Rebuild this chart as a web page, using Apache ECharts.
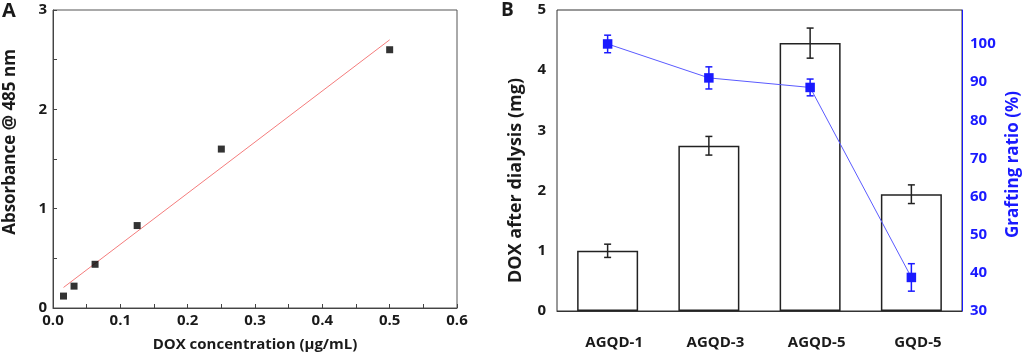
<!DOCTYPE html>
<html>
<head>
<meta charset="utf-8">
<title>DOX calibration and grafting</title>
<script src="https://cdn.jsdelivr.net/npm/echarts@6/dist/echarts.min.js"></script>
<style>
    html, body { margin: 0; padding: 0; background: #fff; }
    #chart { width: 1024px; height: 357px; }
</style>
</head>
<body>
<div id="chart"></div>
<script>
// panel A: calibration curve
var concentration = [0.015625, 0.03125, 0.0625, 0.125, 0.25, 0.5];
var absorbance = [0.12, 0.22, 0.44, 0.83, 1.60, 2.60];
// fitted line, two end points
var fitX = [0.015625, 0.5];
var fitY = [0.207, 2.70];

// panel B: DOX after dialysis (bars) and grafting ratio (line)
var samples = ['AGQD-1', 'AGQD-3', 'AGQD-5', 'GQD-5'];
var doxMg = [1.00, 2.745, 4.45, 1.94];
var doxErr = [0.11, 0.155, 0.25, 0.155];
var grafting = [100, 91.1, 88.6, 38.8];
var graftErr = [2.3, 2.9, 2.2, 3.6];

var FONT = 'Open Sans';
var INK = '#1a1a1a';
var BLUE = '#1a1aff';

function zip(a, b) {
    var out = [];
    for (var i = 0; i < a.length; i++) out.push([a[i], b[i]]);
    return out;
}

function errItems(vals, errs) {
    var out = [];
    for (var i = 0; i < vals.length; i++) out.push([i, vals[i], errs[i]]);
    return out;
}

// draws a vertical error bar with caps
function errorBar(color, cap) {
    return function (params, api) {
        var x = api.value(0), v = api.value(1), e = api.value(2);
        var hi = api.coord([x, v + e]);
        var lo = api.coord([x, v - e]);
        var style = { stroke: color, lineWidth: 1.5 };
        return {
            type: 'group',
            children: [
                { type: 'line', shape: { x1: hi[0], y1: hi[1], x2: lo[0], y2: lo[1] }, style: style },
                { type: 'line', shape: { x1: hi[0] - cap, y1: hi[1], x2: hi[0] + cap, y2: hi[1] }, style: style },
                { type: 'line', shape: { x1: lo[0] - cap, y1: lo[1], x2: lo[0] + cap, y2: lo[1] }, style: style }
            ]
        };
    };
}

var chart = echarts.init(document.getElementById('chart'));

function font(size, color) {
    return { fontFamily: FONT, fontWeight: 'bold', fontSize: size, color: color || INK };
}
var labelStyle = font(15);

var option = {
    animation: false,
    title: [
        { text: 'A', left: 2, top: 1, padding: 0, textStyle: font(20) },
        { text: 'B', left: 501, top: 1, padding: 0, textStyle: font(19) }
    ],
    grid: [
        { left: 53, top: 10, width: 404, height: 300, show: true, borderColor: '#555', borderWidth: 1 },
        { left: 557, top: 10, width: 405, height: 301, show: true, borderColor: '#333', borderWidth: 1 }
    ],
    xAxis: [
        {
            type: 'value', gridIndex: 0, min: 0, max: 0.6, interval: 0.1,
            name: 'DOX concentration (μg/mL)', nameLocation: 'middle', nameGap: 29,
            nameTextStyle: font(15),
            axisLine: { lineStyle: { color: '#444' } },
            axisTick: { inside: true, length: 4, lineStyle: { color: '#444' } },
            minorTick: { show: true, splitNumber: 2, length: 4, lineStyle: { color: '#444' } },
            splitLine: { show: false },
            axisLabel: Object.assign({ margin: 5, formatter: function (v) { return v.toFixed(1); } }, labelStyle)
        },
        {
            type: 'category', gridIndex: 1, data: samples,
            axisLine: { lineStyle: { color: '#333' } },
            axisTick: { inside: true, alignWithLabel: true, length: 5, lineStyle: { color: '#333' } },
            axisLabel: Object.assign({ margin: 24, padding: [0, 0, 0, 13] }, labelStyle)
        }
    ],
    yAxis: [
        {
            type: 'value', gridIndex: 0, min: 0, max: 3, interval: 1,
            name: 'Absorbance @ 485 nm', nameLocation: 'middle', nameGap: 34,
            nameTextStyle: Object.assign({ padding: [0, 0, 0, 34] }, font(17)),
            axisLine: { lineStyle: { color: '#444' } },
            axisTick: { inside: true, length: 4, lineStyle: { color: '#444' } },
            minorTick: { show: true, splitNumber: 2, length: 4, lineStyle: { color: '#444' } },
            splitLine: { show: false },
            axisLabel: Object.assign({ margin: 6 }, labelStyle)
        },
        {
            type: 'value', gridIndex: 1, min: 0, max: 5, interval: 1,
            name: 'DOX after dialysis (mg)', nameLocation: 'middle', nameGap: 32,
            nameTextStyle: Object.assign({ padding: [0, 40, 0, 0] }, font(18)),
            axisLine: { lineStyle: { color: '#333' } },
            axisTick: { inside: true, length: 4, lineStyle: { color: '#333' } },
            splitLine: { show: false },
            axisLabel: Object.assign({ margin: 11 }, labelStyle)
        },
        {
            type: 'value', gridIndex: 1, position: 'right', min: 30, max: 108.9, interval: 10,
            name: 'Grafting ratio (%)', nameLocation: 'middle', nameGap: 43, nameRotate: 90,
            nameTextStyle: Object.assign({ padding: [0, 8, 0, 0] }, font(17, BLUE)),
            axisLine: { show: true, lineStyle: { color: BLUE } },
            axisTick: { inside: true, length: 4, lineStyle: { color: BLUE } },
            splitLine: { show: false },
            axisLabel: Object.assign({}, labelStyle, {
                color: BLUE, margin: 8,
                formatter: function (v) { return v % 10 === 0 ? String(v) : ''; }
            })
        }
    ],
    series: [
        {
            type: 'line', xAxisIndex: 0, yAxisIndex: 0,
            data: zip(fitX, fitY), showSymbol: false,
            lineStyle: { color: '#f47c7c', width: 1 }, z: 2
        },
        {
            type: 'scatter', xAxisIndex: 0, yAxisIndex: 0,
            data: zip(concentration, absorbance),
            symbol: 'rect', symbolSize: 7,
            itemStyle: { color: '#000' }, z: 3
        },
        {
            type: 'bar', xAxisIndex: 1, yAxisIndex: 1,
            data: doxMg, barWidth: 61,
            itemStyle: { color: '#fff', borderColor: '#222', borderWidth: 1.5 }, z: 1
        },
        {
            type: 'custom', xAxisIndex: 1, yAxisIndex: 1,
            data: errItems(doxMg, doxErr),
            renderItem: errorBar('#222', 3.5), z: 3
        },
        {
            type: 'line', xAxisIndex: 1, yAxisIndex: 2,
            data: grafting, symbol: 'rect', symbolSize: 9.5,
            lineStyle: { color: '#5a5aff', width: 1 },
            itemStyle: { color: BLUE }, z: 4
        },
        {
            type: 'custom', xAxisIndex: 1, yAxisIndex: 2,
            data: errItems(grafting, graftErr),
            renderItem: errorBar(BLUE, 3.5), z: 5
        }
    ]
};

chart.setOption(option);
window.onresize = function () {
    chart.resize();
};
</script>
</body>
</html>
